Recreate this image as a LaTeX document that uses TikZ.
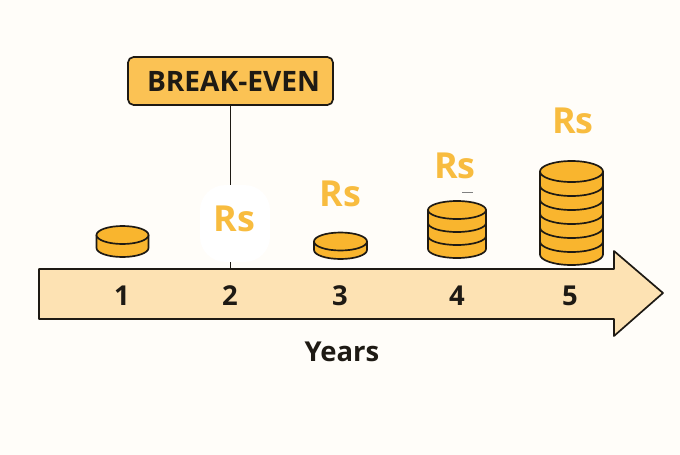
\documentclass[tikz,border=0pt]{standalone}
\usepackage{fontspec}
\setmainfont{Open Sans}
\definecolor{paper}{HTML}{FFFDF9}
\definecolor{ink}{HTML}{1E1A14}
\definecolor{band}{HTML}{FDE2B3}
\definecolor{coin}{HTML}{F9B52E}
\definecolor{tag}{HTML}{FBC254}
\definecolor{rupee}{HTML}{F8BC3F}
\tikzset{
    outline/.style={draw=ink, line width=1.2pt, line join=round},
    tagbox/.style={outline, fill=tag, rounded corners=4pt, minimum width=5.125cm, minimum height=1.2cm, text=ink, font=\fontsize{20}{22}\bfseries\selectfont},
    rslabel/.style={text=rupee, inner sep=0pt, font=\fontsize{25.5}{27}\bfseries\selectfont},
    yearlabel/.style={text=ink, inner sep=0pt, font=\fontsize{19.5}{21}\bfseries\selectfont},
    blob/.style={fill=white, rounded corners=18pt, minimum width=1.75cm, minimum height=1.92cm, inner sep=0pt}
}
\begin{document}
\begin{tikzpicture}[x=0.025cm, y=-0.025cm]
    % page
    \fill[paper] (0,0) rectangle (680,455);
    \useasboundingbox (0,0) rectangle (680,455);

    % break-even marker
    \node[tagbox] (breakeven) at (230.5,81) {\hspace*{0.15cm}BREAK-EVEN};
    \coordinate (tick) at (230.5,270);
    \draw[ink, line width=1.1pt] (breakeven.south -| tick) -- (tick);
    \node[blob] (halo) at (235,223.5) {};

    % timeline
    \draw[outline, fill=band] (39,269) -- (614,269) -- (614,251) -- (663,293)
        -- (614,336) -- (614,319) -- (39,319) -- cycle;
    \foreach \x/\year in {122/1, 230/2, 340/3, 457/4, 570/5}
        \node[yearlabel] (year\year) at (\x,296) {\year};
    \node[yearlabel] (years) at (342,352) {Years};

    % coin stacks: centre, top, bottom, half width, half depth, step
    \foreach \cx/\top/\bot/\rx/\ry/\dy in {
        122.5/235/248/26/9/13,
        340.5/241.5/250/26.5/9/8.5,
        457/210/249/29/9/13,
        571.5/171.5/254.5/31.5/10.5/14}
    {
        \draw[outline, fill=coin] (\cx-\rx,\top) -- (\cx-\rx,\bot)
            arc[start angle=180, end angle=0, x radius=\rx, y radius=\ry]
            -- (\cx+\rx,\top) -- cycle;
        \pgfmathtruncatemacro{\n}{round((\bot-\top)/\dy)-1}
        \ifnum\n>0
            \foreach \k in {1,...,\n}
                \draw[outline] (\cx-\rx,\top+\k*\dy)
                    arc[start angle=180, end angle=0, x radius=\rx, y radius=\ry];
        \fi
        \draw[outline, fill=coin] (\cx,\top) ellipse[x radius=\rx, y radius=\ry];
    }
    \draw[gray, line width=0.5pt] (462,192) -- (473,192);

    % rupee labels
    \node[rslabel] (rs2) at (234.5,219) {Rs};
    \node[rslabel] (rs3) at (340.5,194) {Rs};
    \node[rslabel] (rs4) at (455,166) {Rs};
    \node[rslabel] (rs5) at (573,121) {Rs};
\end{tikzpicture}
\end{document}
